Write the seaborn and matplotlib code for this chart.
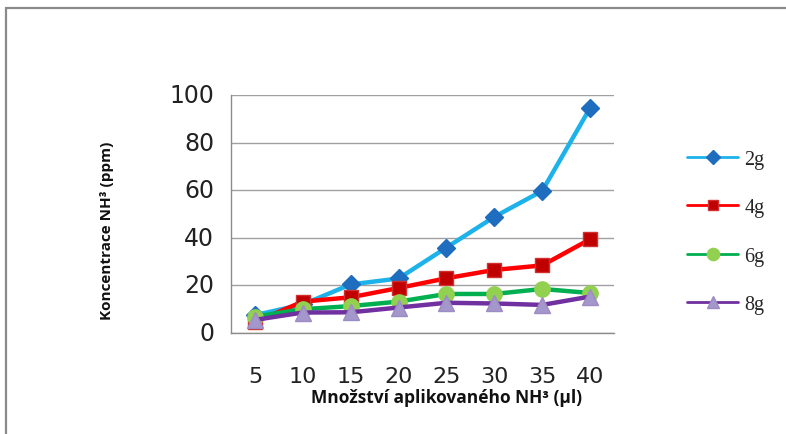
import numpy as np
import pandas as pd
import matplotlib
matplotlib.use("Agg")
import matplotlib.pyplot as plt
from matplotlib.lines import Line2D
from matplotlib.patches import Rectangle
import seaborn as sns

# Applied NH3 volume (µl) and measured concentration (ppm) per sample mass
volumes = ["5", "10", "15", "20", "25", "30", "35", "40"]
series_names = ["2g", "4g", "6g", "8g"]
conc_2g = [7.5, 12.0, 20.4, 22.9, 35.9, 48.8, 59.7, 94.5]
conc_4g = [4.6, 13.2, 15.0, 18.9, 23.0, 26.5, 28.4, 39.4]
conc_6g = [6.9, 10.0, 11.3, 13.2, 16.4, 16.4, 18.5, 16.8]
conc_8g = [5.5, 8.6, 8.7, 10.7, 12.7, 12.4, 11.8, 15.3]
y_ticks = [0, 20, 40, 60, 80, 100]

df = pd.DataFrame({
    "volume": volumes * 4,
    "conc": conc_2g + conc_4g + conc_6g + conc_8g,
    "sample": np.repeat(series_names, len(volumes)),
})
df["pos"] = np.tile(np.arange(len(volumes)), 4)

styles = {
    "2g": dict(line="#1DB3EA", face="#1F6DBE", edge="#1F6DBE", marker="D", ms=9.5),
    "4g": dict(line="#FF0000", face="#C00000", edge="#D03030", marker="s", ms=9.5),
    "6g": dict(line="#00B050", face="#92D050", edge="#92D050", marker="o", ms=11),
    "8g": dict(line="#7030A0", face="#A497CB", edge="#9C8CC4", marker="^", ms=11),
}

sns.set_theme(style="white")
fig = plt.figure(figsize=(7.86, 4.35), dpi=100)
W, H = 786, 435
ax = fig.add_axes([231 / W, 1 - 334 / H, (614 - 231) / W, (334 - 96) / H])

for name in series_names:
    st = styles[name]
    sub = df[df["sample"] == name]
    sns.lineplot(data=sub, x="pos", y="conc", ax=ax, color=st["line"], lw=3.2,
                 marker=st["marker"], markersize=st["ms"],
                 markerfacecolor=st["face"], markeredgecolor=st["edge"],
                 markeredgewidth=1.0, sort=False, legend=False)

ax.set_xlim(-0.5, len(volumes) - 0.5)
ax.set_ylim(0, 100)
ax.set_yticks(y_ticks)
ax.set_xticks(np.arange(len(volumes)))
ax.set_xticks(np.arange(len(volumes) + 1) - 0.5, minor=True)
ax.set_xticklabels(volumes)
ax.tick_params(axis="x", which="major", length=0, pad=31, labelsize=16, labelcolor="#222222")
ax.tick_params(axis="x", which="minor", length=8, width=1, color="#8c8c8c", direction="out")
ax.tick_params(axis="y", length=9, width=1, color="#8c8c8c", direction="out",
               labelsize=17, labelcolor="#222222", pad=3)
for lab in ax.get_xticklabels() + ax.get_yticklabels():
    lab.set_family("DejaVu Sans")
    lab.set_verticalalignment("center")

ax.grid(axis="y", color="#a0a0a0", lw=1)
ax.grid(axis="x", visible=False)
ax.set_axisbelow(True)
for s in ["top", "right"]:
    ax.spines[s].set_visible(False)
for s in ["left", "bottom"]:
    ax.spines[s].set_color("#8c8c8c")
    ax.spines[s].set_linewidth(1)
ax.set_xlabel("")
ax.set_ylabel("")

fig.text(107 / W, 1 - 231 / H, "Koncentrace NH³ (ppm)", rotation=90, ha="center",
         va="center", fontsize=11, fontweight="bold", family="Open Sans", color="#111111")
fig.text(447 / W, 1 - 398 / H, "Množství aplikovaného NH³ (µl)", ha="center",
         va="center", fontsize=12.5, fontweight="bold", family="Open Sans", color="#111111")

handles = [Line2D([], [], color=styles[n]["line"], lw=2, marker=styles[n]["marker"],
                  markersize=styles[n]["ms"] * 0.8, markerfacecolor=styles[n]["face"],
                  markeredgecolor=styles[n]["edge"]) for n in series_names]
leg = fig.legend(handles, series_names, loc="center left",
                 bbox_to_anchor=(673 / W, 1 - 233 / H), frameon=False,
                 handlelength=2.55, labelspacing=1.45, handletextpad=0.3,
                 borderpad=0.2, prop={"family": "Liberation Serif", "size": 14.5})

# Outer frame of the chart area
fig.add_artist(Rectangle((6 / W, -0.05), 1.1, 1 - 9 / H + 0.05, transform=fig.transFigure,
                         fill=False, edgecolor="#8a8a8a", lw=1.6, clip_on=False))

fig.savefig("out.png", dpi=100, facecolor="white")
